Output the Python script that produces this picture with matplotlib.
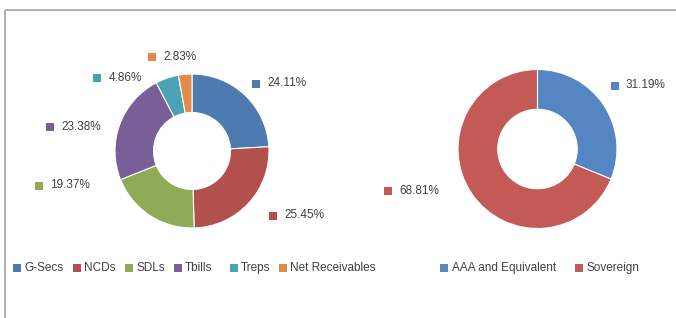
import matplotlib.pyplot as plt
from matplotlib.patches import Rectangle

plt.rcParams['font.family'] = ['Liberation Sans', 'DejaVu Sans']

# data
asset_names = ['G-Secs', 'NCDs', 'SDLs', 'Tbills', 'Treps', 'Net Receivables']
asset_pct = [24.11, 25.45, 19.37, 23.38, 4.86, 2.83]
asset_colors = ['#4E7BAF', '#B2504E', '#8FAB57', '#785F97', '#4BA1B6', '#E08B48']

rating_names = ['AAA and Equivalent', 'Sovereign']
rating_pct = [31.19, 68.81]
rating_colors = ['#5586C3', '#C35A56']

# label layout (pixel positions of the little square markers)
asset_lbl_pos = [(256, 83.5), (273, 215.5), (38.5, 185.5), (50, 127), (97, 78), (151.5, 57)]
rating_lbl_pos = [(614.5, 85.5), (387.5, 191)]
asset_leg_x = [17, 76.5, 129, 177.5, 233.5, 282.5]
rating_leg_x = [444, 579]
leg_y = 268

W, H = 676, 318
fig = plt.figure(figsize=(W / 100, H / 100), dpi=100)

def donut_axes(cx, cy, r):
    return fig.add_axes([(cx - r) / W, (H - cy - r) / H, 2 * r / W, 2 * r / H])

ax1 = donut_axes(192, 151, 77)
ax1.pie(asset_pct, colors=asset_colors, startangle=90, counterclock=False,
        wedgeprops=dict(width=0.5, edgecolor='white', linewidth=0.8))
ax1.set_xlim(-1, 1)
ax1.set_ylim(-1, 1)

ax2 = donut_axes(537.5, 149, 79.5)
ax2.pie(rating_pct, colors=rating_colors, startangle=90, counterclock=False,
        wedgeprops=dict(width=0.5, edgecolor='white', linewidth=0.8))
ax2.set_xlim(-1, 1)
ax2.set_ylim(-1, 1)

# overlay in pixel coords for labels, legend and frame
ov = fig.add_axes([0, 0, 1, 1], zorder=5)
ov.set_xlim(0, W)
ov.set_ylim(H, 0)
ov.axis('off')
ov.patch.set_alpha(0)

ov.add_patch(Rectangle((5, 9.5), W + 20, H + 20, fill=False, edgecolor='#ABABAB', linewidth=1.3))

txt_color = '#404040'
fs = 8.5

def tag(x, y, color, text):
    ov.scatter([x], [y], marker='s', s=26, color=color, linewidths=0)
    ov.text(x + 11.5, y, text, fontsize=fs, color=txt_color, va='center', ha='left')

for (x, y), c, v in zip(asset_lbl_pos, asset_colors, asset_pct):
    tag(x, y, c, f'{v:.2f}%')
for (x, y), c, v in zip(rating_lbl_pos, rating_colors, rating_pct):
    tag(x, y, c, f'{v:.2f}%')

for x, c, n in zip(asset_leg_x, asset_colors, asset_names):
    ov.scatter([x], [leg_y], marker='s', s=26, color=c, linewidths=0)
    ov.text(x + 7.5, leg_y, n, fontsize=fs, color=txt_color, va='center', ha='left')
for x, c, n in zip(rating_leg_x, rating_colors, rating_names):
    ov.scatter([x], [leg_y], marker='s', s=26, color=c, linewidths=0)
    ov.text(x + 7.5, leg_y, n, fontsize=fs, color=txt_color, va='center', ha='left')

fig.savefig('out.png', dpi=100)
